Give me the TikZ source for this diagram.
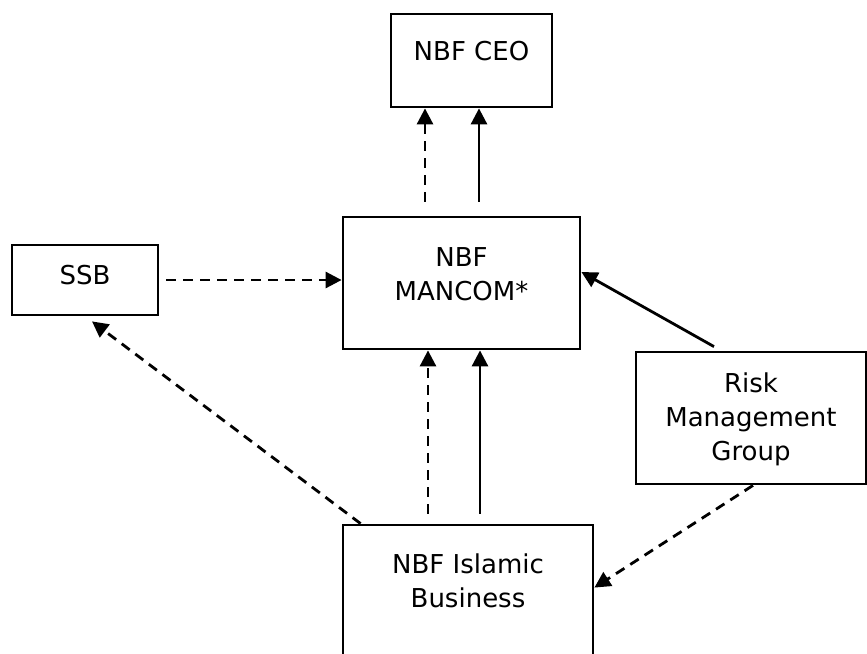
\documentclass[tikz,border=0pt]{standalone}
\usepackage{fontspec}
\setmainfont{DejaVu Sans}
\usetikzlibrary{arrows.meta}

\begin{document}
\begin{tikzpicture}[x=1pt,y=-1pt,>={Triangle[length=16pt,width=16pt]},
    unit/.style={draw,line width=2.8pt,inner sep=0pt},
    caption/.style={anchor=north,align=center,inner sep=0pt,font=\fontsize{26}{34}\selectfont},
    link/.style={->,line width=2.8pt},
    dashlink/.style={link,dash pattern=on 10pt off 7pt}]
    % Page frame
    \useasboundingbox (0,0) rectangle (867,653);
    \clip (0,0) rectangle (867,653);

    % Units
    \node[unit,minimum width=161pt,minimum height=93pt,
      label={[caption,yshift=-28pt]north:NBF CEO}] (ceo) at (471.5,60.5) {};
    \node[unit,minimum width=237pt,minimum height=132pt,
      label={[caption,yshift=-32pt]north:{NBF\\MANCOM*}}] (mancom) at (461.5,283) {};
    \node[unit,minimum width=146pt,minimum height=70pt,
      label={[caption,yshift=-21pt]north:SSB}] (ssb) at (85,280) {};
    \node[unit,minimum width=230pt,minimum height=132pt,
      label={[caption,yshift=-22pt]north:{Risk\\Management\\Group}}] (risk) at (751,418) {};
    \node[unit,minimum width=250pt,minimum height=160pt,
      label={[caption,yshift=-30pt]north:{NBF Islamic\\Business}}] (islamic) at (468,605) {};

    % Reporting lines to the CEO
    \draw[dashlink] ([xshift=-36.5pt,yshift=14pt]mancom.north) coordinate (m1) -- (m1 |- ceo.south);
    \draw[link] ([xshift=17.5pt,yshift=14pt]mancom.north) coordinate (m2) -- (m2 |- ceo.south);

    % Into MANCOM
    \draw[dashlink] ([xshift=7pt]ssb.east) -- (ssb.east -| mancom.west);
    \draw[dashlink] ([xshift=-40pt,yshift=10pt]islamic.north) coordinate (i1) -- (i1 |- mancom.south);
    \draw[link] ([xshift=12pt,yshift=10pt]islamic.north) coordinate (i2) -- (i2 |- mancom.south);
    \draw[link] ([xshift=-37pt,yshift=4pt]risk.north) -- ([yshift=11pt]mancom.east);

    % Side links
    \draw[dashlink] ([xshift=19pt]islamic.north west) -- ([xshift=7pt,yshift=-5pt]ssb.south);
    \draw[dashlink] ([xshift=2pt]risk.south) -- ([yshift=-64pt]islamic.north east);
\end{tikzpicture}
\end{document}
